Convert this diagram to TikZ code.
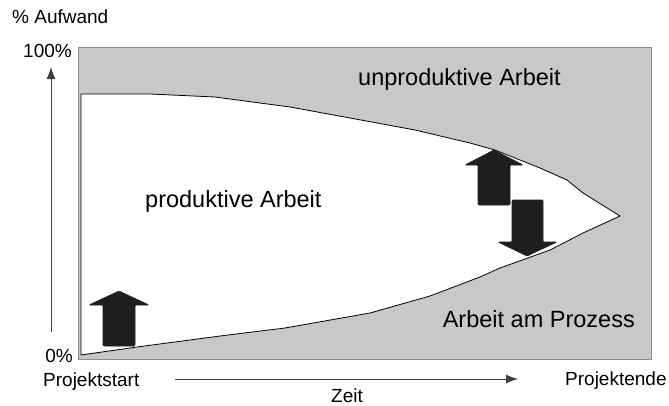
\documentclass[tikz,border=0pt]{standalone}
\usepackage{fontspec}
\setmainfont{Liberation Sans}
\usetikzlibrary{arrows.meta}
\definecolor{bggray}{HTML}{C8C8C8}
\definecolor{bgedge}{HTML}{8C8C8C}
\definecolor{arrowdark}{HTML}{1E1E1E}
\definecolor{axisgray}{HTML}{404040}
\tikzset{
  blockarrow/.style={fill=arrowdark, draw=arrowdark, line width=0.6pt, rounded corners=1pt},
  smalllbl/.style={inner sep=0pt, font=\fontsize{19}{22}\selectfont},
  biglbl/.style={inner sep=0pt, font=\fontsize{23.5}{28}\selectfont},
  axisline/.style={draw=axisgray, line width=0.9pt, -{Latex[length=12pt,width=9pt]}, shorten >=0pt},
  curve/.style={draw=black, line width=0.8pt, fill=white, line join=round}
}
\begin{document}
\begin{tikzpicture}[x=1pt,y=-1pt]
\useasboundingbox (0,0) rectangle (669,405);
\fill[white] (0,0) rectangle (669,405);
% gray background panel
\filldraw[fill=bggray, draw=bgedge, line width=0.8pt] (78,47) rectangle (651,359);
% white region of productive work
\path[curve] (81,355) -- (81,94) -- (150,94) -- (215,97) -- (290,107) -- (350,118)
  -- (415,130) -- (470,143) -- (495,150) -- (540,168) -- (567,180) -- (583,193) -- (620,216)
  -- (583,233) -- (550,250) -- (500,268) -- (480,277) -- (430,296) -- (370,313)
  -- (285,328) -- (220,336) -- (137,347) -- cycle;
% block arrows
\filldraw[blockarrow] (103,346) -- (103,305) -- (89,305) -- (119,291) -- (149,305)
  -- (135,305) -- (135,346) -- cycle;
\filldraw[blockarrow] (478,205) -- (478,165) -- (465,165) -- (494,150) -- (523,165)
  -- (510,165) -- (510,205) -- cycle;
\filldraw[blockarrow] (512,200) -- (512,242) -- (498,242) -- (527,256) -- (557,242)
  -- (543,242) -- (543,200) -- cycle;
% axes
\coordinate (yfoot) at (51,332);
\coordinate (ytip) at (51,67);
\coordinate (xfoot) at (175,379);
\coordinate (xtip) at (518,379);
\draw[axisline] (yfoot) -- (ytip);
\draw[axisline] (xfoot) -- (xtip);
% labels
\node[smalllbl, anchor=base west] (aufwand) at (12,23) {\% Aufwand};
\node[smalllbl, anchor=base east] (hundred) at (72,57) {100\%};
\node[smalllbl, anchor=base east] (zero) at (73,362) {0\%};
\node[smalllbl, anchor=base west] (start) at (43,386) {Projektstart};
\node[smalllbl, anchor=base] (zeit) at (347,402) {Zeit};
\node[smalllbl, anchor=base west] (ende) at (565,385) {Projektende};
\node[biglbl, anchor=base west] (unprod) at (358,85) {unproduktive Arbeit};
\node[biglbl, anchor=base west] (prod) at (145,207) {produktive Arbeit};
\node[biglbl, anchor=base east] (prozess) at (635,327) {Arbeit am Prozess};
\end{tikzpicture}
\end{document}
